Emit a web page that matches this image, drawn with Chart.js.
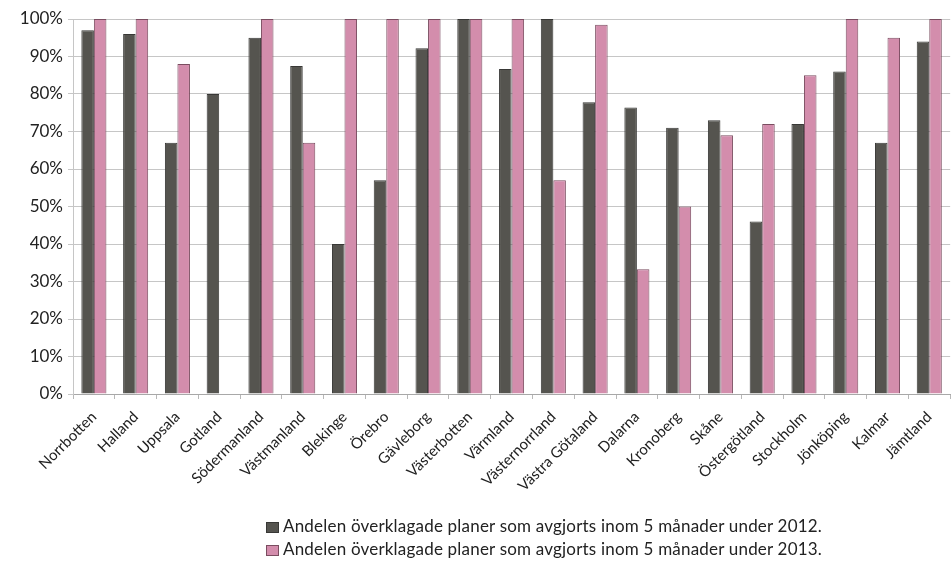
<!DOCTYPE html>
<html>
<head>
<meta charset="utf-8">
<script src="https://cdn.jsdelivr.net/npm/chart.js@4"></script>
<style>
  html, body { margin: 0; padding: 0; background: #fff; overflow: hidden; }
  #wrap { position: relative; width: 951px; height: 564px; }
  #legend { position: absolute; left: 266px; top: 514px; font-family: Lato, "Open Sans", sans-serif; font-size: 17px; letter-spacing: 0.2px; color: #222; }
  #legend div { height: 23px; line-height: 23px; white-space: nowrap; }
  #legend span.box { display: inline-block; width: 13px; height: 11px; margin-right: 4px; vertical-align: -1px; box-sizing: border-box; }
</style>
</head>
<body>
<div id="wrap">
  <canvas id="c" width="951" height="564"></canvas>
  <div id="legend"></div>
</div>
<script>
const lan = ['Norrbotten', 'Halland', 'Uppsala', 'Gotland', 'Södermanland', 'Västmanland', 'Blekinge',
  'Örebro', 'Gävleborg', 'Västerbotten', 'Värmland', 'Västernorrland', 'Västra Götaland', 'Dalarna',
  'Kronoberg', 'Skåne', 'Östergötland', 'Stockholm', 'Jönköping', 'Kalmar', 'Jämtland'];

const andel2012 = [97, 96, 67, 80, 95, 87.5, 40, 57, 92.2, 100, 86.7, 100, 77.8, 76.4, 71, 73, 46, 72, 86, 67, 94];
const andel2013 = [100, 100, 88, 0, 100, 67, 100, 100, 100, 100, 100, 57, 98.5, 33.3, 50, 69, 72, 85, 100, 95, 100];

const label2012 = 'Andelen överklagade planer som avgjorts inom 5 månader under 2012.';
const label2013 = 'Andelen överklagade planer som avgjorts inom 5 månader under 2013.';

const yTicks = [0, 10, 20, 30, 40, 50, 60, 70, 80, 90, 100];

const font = 'Lato, "Open Sans", sans-serif';

const chart = new Chart(document.getElementById('c').getContext('2d'), {
    type: 'bar',
    data: {
        labels: lan,
        datasets: [
            { label: label2012, data: andel2012, backgroundColor: '#55544f', borderColor: '#383836', borderWidth: 1 },
            { label: label2013, data: andel2013, backgroundColor: '#d38dac', borderColor: '#7a4d60', borderWidth: 1 }
        ]
    },
    options: {
        responsive: false,
        animation: false,
        categoryPercentage: 0.6,
        barPercentage: 1.0,
        layout: { padding: { top: 19, right: 0, left: 0, bottom: 0 } },
        plugins: {
            legend: { display: false },
            tooltip: { enabled: false }
        },
        scales: {
            x: {
                afterFit: s => { s.height = 170; },
                grid: { offset: true, drawOnChartArea: false, drawTicks: true, tickLength: 5, color: '#b8b8b8' },
                border: { color: '#a8a8a8' },
                ticks: {
                    maxRotation: 45, minRotation: 45, autoSkip: false, padding: 9,
                    color: '#222', font: { family: font, size: 15 }
                }
            },
            y: {
                min: 0, max: 100,
                afterFit: s => { s.width = 73; },
                afterBuildTicks: s => { s.ticks = yTicks.map(v => ({ value: v })); },
                grid: { color: '#c6c6c6', tickLength: 5 },
                border: { color: '#c6c6c6' },
                ticks: {
                    color: '#222', padding: 5,
                    font: { family: font, size: 17 },
                    callback: v => v + '%'
                }
            }
        }
    }
});

// legend, one entry per row under the chart
const legendEl = document.getElementById('legend');
chart.data.datasets.forEach(ds => {
    const row = document.createElement('div');
    const box = document.createElement('span');
    box.className = 'box';
    box.style.background = ds.backgroundColor;
    box.style.border = '1px solid ' + ds.borderColor;
    row.appendChild(box);
    row.appendChild(document.createTextNode(ds.label));
    legendEl.appendChild(row);
});
</script>
</body>
</html>
